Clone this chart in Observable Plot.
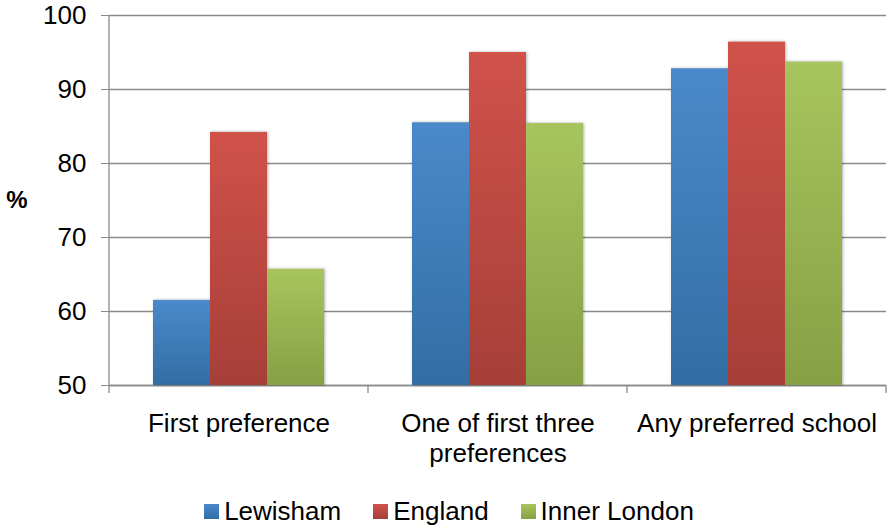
<!DOCTYPE html>
<html><head><meta charset="utf-8">
<script src="https://cdn.jsdelivr.net/npm/d3@7"></script>
<script src="https://cdn.jsdelivr.net/npm/@observablehq/plot@0.6"></script>
<style>
body{margin:0;background:#fff;font-family:"Liberation Sans",Arial,sans-serif;}
#legend{display:flex;justify-content:center;align-items:center;height:36px;font-size:26px;color:#000;padding-left:8px;padding-top:6px;box-sizing:border-box}
.item{display:flex;align-items:center;margin:0 16px}
.sw{width:15px;height:15px;margin-right:5px}
</style></head><body><div id="chart"></div><div id="legend"></div>
<script>
const categories = ["First preference", "One of first three preferences", "Any preferred school"];
const categoryLabels = ["First preference", "One of first three\npreferences", "Any preferred school"];
const series = ["Lewisham", "England", "Inner London"];
const lewisham = [61.5, 85.5, 92.8];
const england = [84.2, 95.0, 96.4];
const innerLondon = [65.7, 85.4, 93.7];
const yTicks = [50, 60, 70, 80, 90, 100];

const topColors = ["#4a89ca", "#d0524a", "#a7c55e"];
const bottomColors = ["#336da4", "#a63f38", "#86a044"];

const values = [lewisham, england, innerLondon];
const data = categories.flatMap((c, i) => series.map((s, j) => ({category: c, series: s, value: values[j][i], idx: j})));

const chart = Plot.plot({
  width: 890, height: 490,
  marginLeft: 108, marginRight: 3, marginTop: 15, marginBottom: 105,
  style: {fontFamily: "'Liberation Sans', Arial, sans-serif", fontSize: "26px", color: "#000", background: "#fff", overflow: "visible"},
  fx: {domain: categories, padding: 0, label: null},
  x: {domain: series, paddingInner: 0, paddingOuter: 0.76, axis: null},
  y: {domain: [yTicks[0], yTicks[yTicks.length - 1]]},
  color: {type: "identity"},
  marks: [
    Plot.gridY(yTicks, {stroke: "#8a8a8a", strokeOpacity: 1, strokeWidth: 1.3}),
    Plot.ruleY([yTicks[0]], {stroke: "#8a8a8a", strokeWidth: 1.3}),
    Plot.barY(data, {fx: "category", x: "series", y1: () => yTicks[0], y2: "value",
      fill: d => `url(#grad${d.idx})`, imageFilter: "drop-shadow(1px 0px 1.5px rgba(0,0,0,0.3))"}),
    Plot.axisY(yTicks, {tickSize: 8, tickPadding: 15, label: null, stroke: "#8a8a8a", fill: "#000"}),
    Plot.axisFx({anchor: "bottom", tickSize: 0, tickPadding: 25, label: null, lineHeight: 1.15,
      tickFormat: d => categoryLabels[categories.indexOf(d)]})
  ]
});
document.getElementById("chart").appendChild(chart);

const svg = d3.select(chart);
const defs = svg.insert("defs", ":first-child");
series.forEach((s, i) => {
  const g = defs.append("linearGradient").attr("id", "grad" + i)
    .attr("x1", 0).attr("y1", 0).attr("x2", 0).attr("y2", 1);
  g.append("stop").attr("offset", 0).attr("stop-color", topColors[i]);
  g.append("stop").attr("offset", 1).attr("stop-color", bottomColors[i]);
});

const fxs = chart.scale("fx"), ys = chart.scale("y");
const yb = ys.apply(yTicks[0]), yt = ys.apply(yTicks[yTicks.length - 1]);
const bounds = categories.map(c => fxs.apply(c));
bounds.push(bounds[bounds.length - 1] + fxs.bandwidth);
const ax = svg.append("g").attr("stroke", "#8a8a8a").attr("stroke-width", 1.3);
ax.append("line").attr("x1", bounds[0]).attr("x2", bounds[0]).attr("y1", yt).attr("y2", yb);
bounds.forEach(b => ax.append("line").attr("x1", b).attr("x2", b).attr("y1", yb).attr("y2", yb + 8));
svg.append("text").text("%").attr("x", 17).attr("y", ys.apply((yTicks[0] + yTicks[yTicks.length - 1]) / 2))
  .attr("dy", "0.35em").attr("text-anchor", "middle").attr("font-weight", "bold").attr("font-size", 24).attr("fill", "#000");

const legend = d3.select("#legend");
series.forEach((s, i) => {
  const it = legend.append("div").attr("class", "item");
  it.append("div").attr("class", "sw").style("background", `linear-gradient(${topColors[i]}, ${bottomColors[i]})`);
  it.append("span").text(s);
});
</script>
</body></html>
